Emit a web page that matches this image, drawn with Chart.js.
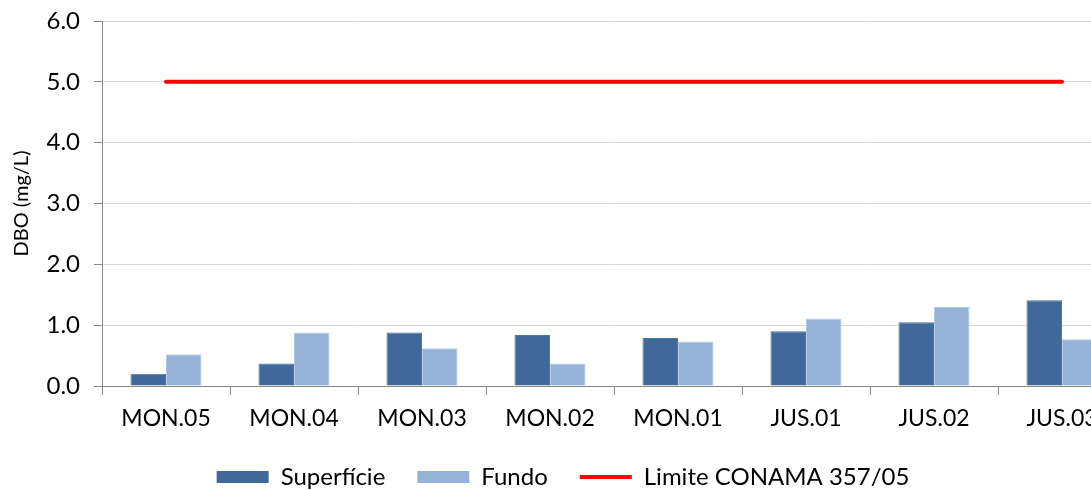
<!DOCTYPE html>
<html>
<head>
<meta charset="utf-8">
<title>DBO</title>
<script src="https://cdn.jsdelivr.net/npm/chart.js@4.4.1/dist/chart.umd.min.js"></script>
<style>
    body { margin: 0; overflow: hidden; background: #fff; }
    #wrap { width: 1130px; height: 499px; position: relative; }
</style>
</head>
<body>
<div id="wrap"><canvas id="myChart"></canvas></div>
<script>
const stations = ['MON.05', 'MON.04', 'MON.03', 'MON.02', 'MON.01', 'JUS.01', 'JUS.02', 'JUS.03'];
const superficie = [0.20, 0.37, 0.88, 0.84, 0.79, 0.90, 1.05, 1.41];
const fundo = [0.52, 0.88, 0.62, 0.37, 0.73, 1.11, 1.30, 0.77];
const limite = [5, 5, 5, 5, 5, 5, 5, 5];
const yTicks = [0, 1, 2, 3, 4, 5, 6];

const fontName = 'Lato, "Open Sans", sans-serif';
const axisGray = '#868686';

function legendLabels(chart){
    const items = Chart.defaults.plugins.legend.labels.generateLabels(chart);
    items.forEach(function(item){
        if (item.datasetIndex === 2) {
            item.pointStyle = 'line';
            item.strokeStyle = '#FF0000';
            item.lineWidth = 4;
        } else {
            item.pointStyle = 'rect';
            item.lineWidth = 0;
        }
    });
    return items;
}

const ctx = document.getElementById('myChart').getContext('2d');
new Chart(ctx, {
    type: 'bar',
    data: {
        labels: stations,
        datasets: [
            {
                label: 'Superfície',
                data: superficie,
                backgroundColor: '#406999',
                borderColor: '#4A75A8',
                borderWidth: 1,
                order: 2
            },
            {
                label: 'Fundo',
                data: fundo,
                backgroundColor: '#95B3D7',
                borderColor: '#B4CAE4',
                borderWidth: 1,
                order: 2
            },
            {
                type: 'line',
                label: 'Limite CONAMA 357/05',
                data: limite,
                borderColor: '#FF0000',
                backgroundColor: '#FF0000',
                borderWidth: 4,
                borderCapStyle: 'round',
                pointRadius: 0,
                order: 1
            }
        ]
    },
    options: {
        responsive: true,
        maintainAspectRatio: false,
        animation: false,
        layout: { padding: { top: 21, right: 4, bottom: 0, left: 0 } },
        datasets: {
            bar: { barPercentage: 1, categoryPercentage: 0.555 }
        },
        plugins: {
            tooltip: { enabled: false },
            legend: {
                position: 'bottom',
                labels: {
                    color: '#000',
                    font: { family: fontName, size: 24 },
                    usePointStyle: true,
                    pointStyleWidth: 52,
                    boxHeight: 12,
                    padding: 32,
                    generateLabels: legendLabels,
                    sort: function(a, b){ return a.datasetIndex - b.datasetIndex; }
                }
            }
        },
        scales: {
            x: {
                afterFit: function(scale){ scale.height = 47; },
                grid: {
                    display: true,
                    drawOnChartArea: false,
                    offset: true,
                    tickLength: 9,
                    color: axisGray
                },
                border: { color: axisGray },
                ticks: {
                    color: '#000',
                    font: { family: fontName, size: 23 },
                    padding: 10,
                    maxRotation: 0
                }
            },
            y: {
                min: 0,
                max: 6,
                afterFit: function(scale){
                    scale.width = 102;
                    scale.paddingTop = 0;
                    scale.paddingBottom = 0;
                },
                afterBuildTicks: function(scale){
                    scale.ticks = yTicks.map(function(v){ return { value: v }; });
                },
                grid: {
                    color: '#D9D9D9',
                    tickColor: axisGray,
                    tickLength: 8
                },
                border: { color: axisGray },
                ticks: {
                    color: '#000',
                    font: { family: fontName, size: 24 },
                    padding: 14,
                    callback: function(v){ return Number(v).toFixed(1); }
                },
                title: {
                    display: true,
                    text: 'DBO (mg/L)',
                    color: '#000',
                    font: { family: fontName, size: 20 },
                    padding: { top: 10, bottom: 0 }
                }
            }
        }
    }
});
</script>
</body>
</html>
